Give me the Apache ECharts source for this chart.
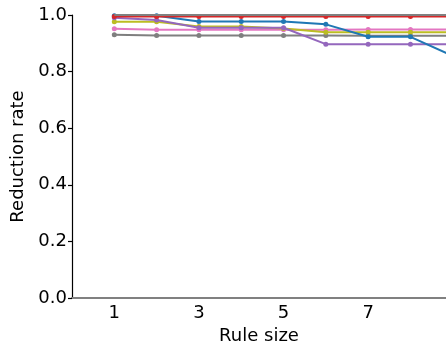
<!DOCTYPE html>
<html>
<head>
<meta charset="utf-8">
<script src="https://cdn.jsdelivr.net/npm/echarts@6/dist/echarts.min.js"></script>
<style>html,body{margin:0;padding:0;background:#fff}#c{width:446px;height:348px}</style>
</head>
<body>
<div id="c"></div>
<script>
const ruleSizes = [1, 2, 3, 4, 5, 6, 7, 8, 9];
const xTickLabels = [1, 3, 5, 7];
const yTickLabels = [0.0, 0.2, 0.4, 0.6, 0.8, 1.0];
const seriesBlue   = [0.997, 0.997, 0.977, 0.977, 0.977, 0.967, 0.923, 0.923, 0.855];
const seriesPurple = [0.990, 0.982, 0.955, 0.955, 0.955, 0.897, 0.897, 0.897, 0.897];
const seriesOlive  = [0.976, 0.976, 0.959, 0.959, 0.952, 0.939, 0.939, 0.939, 0.939];
const seriesPink   = [0.951, 0.948, 0.948, 0.948, 0.948, 0.948, 0.949, 0.949, 0.949];
const seriesGray   = [0.930, 0.928, 0.928, 0.928, 0.928, 0.928, 0.927, 0.927, 0.927];
const seriesRed    = [0.995, 0.995, 0.995, 0.995, 0.995, 0.995, 0.995, 0.995, 0.995];
const seriesTop    = [1.0, 1.0, 1.0, 1.0, 1.0, 1.0, 1.0, 1.0, 1.0];

const font = 'DejaVu Sans';
function mk(name, color, vals, z, sym) {
  return {
    name, type: 'line', z: z,
    data: ruleSizes.map((x, i) => [x, vals[i]]),
    symbol: sym === false ? 'none' : 'circle', symbolSize: 5,
    showSymbol: sym !== false,
    lineStyle: { color, width: 2 },
    itemStyle: { color },
    clip: true, animation: false
  };
}
const chart = echarts.init(document.getElementById('c'), null, { renderer: 'canvas' });
chart.setOption({
  animation: false,
  grid: { left: 72, right: 0, top: 15, bottom: 50, containLabel: false, outerBoundsMode: 'none' },
  xAxis: {
    type: 'value', min: 0, max: 8.84,
    name: 'Rule size', nameLocation: 'middle', nameGap: 29,
    nameTextStyle: { fontFamily: font, fontSize: 18, color: '#000' },
    axisLine: { show: true, lineStyle: { color: '#808080', width: 2 } },
    axisTick: { show: false },
    splitLine: { show: false },
    axisLabel: { customValues: xTickLabels, fontFamily: font, fontSize: 18, color: '#000', margin: 6 }
  },
  yAxis: {
    type: 'value', min: 0, max: 1, interval: 0.2,
    name: 'Reduction rate', nameLocation: 'middle', nameGap: 38,
    nameTextStyle: { fontFamily: font, fontSize: 18, color: '#000' },
    axisLine: { show: true, lineStyle: { color: '#000', width: 1.2 } },
    axisTick: { show: true, length: 4, lineStyle: { color: '#000', width: 1.2 } },
    splitLine: { show: false },
    axisLabel: { fontFamily: font, fontSize: 18, color: '#000', margin: 5,
      formatter: v => v.toFixed(1) }
  },
  series: [
    mk('gray', '#7f7f7f', seriesGray, 2),
    mk('pink', '#e377c2', seriesPink, 3),
    mk('olive', '#bcbd22', seriesOlive, 4),
    mk('purple', '#9467bd', seriesPurple, 5),
    mk('blue', '#1f77b4', seriesBlue, 6),
    mk('red', '#d62728', seriesRed, 7),
    Object.assign(mk('top', '#808080', seriesTop, 8, false), { lineStyle: { color: '#808080', width: 2.2 } })
  ]
});
</script>
</body>
</html>
